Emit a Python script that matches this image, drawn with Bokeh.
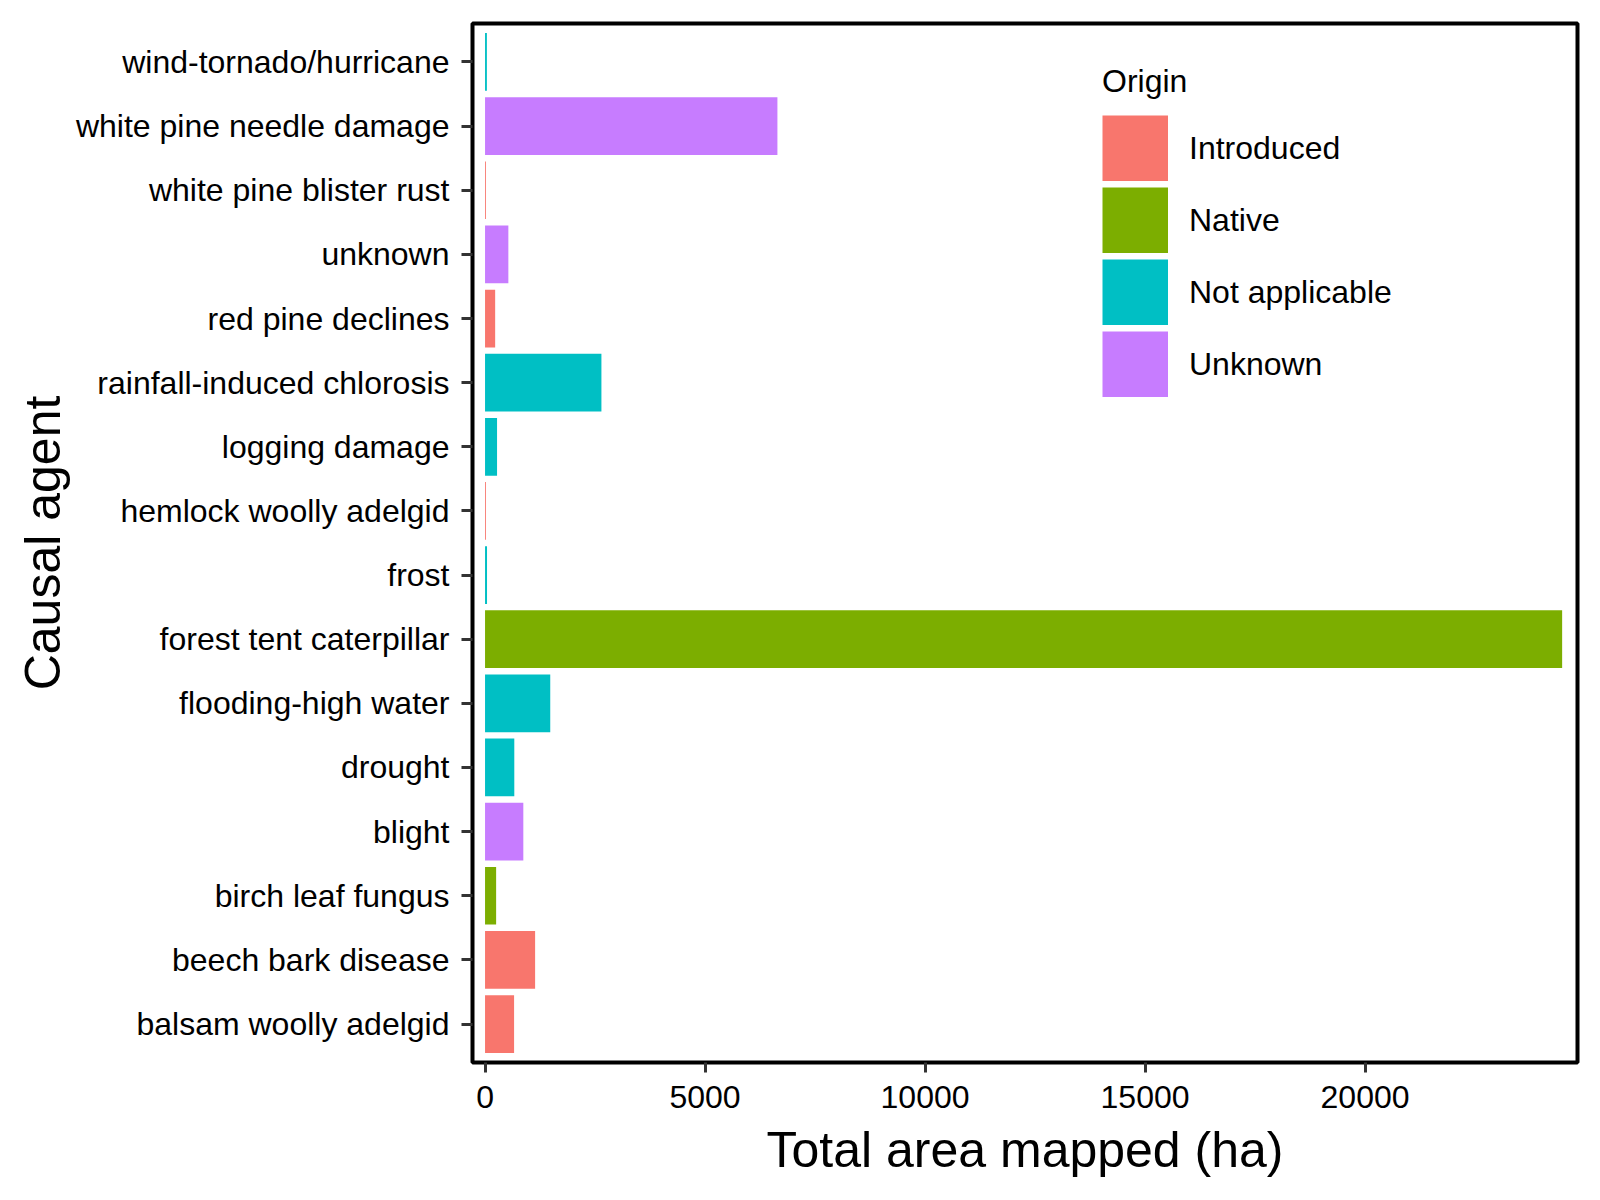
from bokeh.plotting import figure
from bokeh.models import ColumnDataSource, Range1d, FactorRange, FixedTicker, Legend, LegendItem
from bokeh.embed import file_html
from bokeh.resources import INLINE

# ---- data (bottom to top) ----
agents = ['balsam woolly adelgid', 'beech bark disease', 'birch leaf fungus', 'blight',
          'drought', 'flooding-high water', 'forest tent caterpillar', 'frost',
          'hemlock woolly adelgid', 'logging damage', 'rainfall-induced chlorosis',
          'red pine declines', 'unknown', 'white pine blister rust',
          'white pine needle damage', 'wind-tornado/hurricane']
area = [660, 1138, 252, 870, 665, 1482, 24480, 45, 20, 273, 2645, 230, 530, 20, 6645, 42]
origin = ['Introduced', 'Introduced', 'Native', 'Unknown', 'Not applicable', 'Not applicable',
          'Native', 'Not applicable', 'Introduced', 'Not applicable', 'Not applicable',
          'Introduced', 'Unknown', 'Introduced', 'Unknown', 'Not applicable']
origin_levels = ['Introduced', 'Native', 'Not applicable', 'Unknown']
origin_colors = ['#F8766D', '#7CAE00', '#00BFC4', '#C77CFF']
x_ticks = [0, 5000, 10000, 15000, 20000]

FONT = "Liberation Sans"

p = figure(width=1592, height=1184, output_backend="svg", toolbar_location=None,
           y_range=FactorRange(factors=agents, range_padding=0.0125, range_padding_units="percent"),
           x_range=Range1d(-285, 24829),
           min_border_left=472, min_border_right=15, min_border_top=23, min_border_bottom=122)

items = []
for lvl, col in zip(origin_levels, origin_colors):
    ys = [a for a, o in zip(agents, origin) if o == lvl]
    vs = [v for v, o in zip(area, origin) if o == lvl]
    src = ColumnDataSource(dict(y=ys, right=vs))
    p.hbar(y='y', left=0, right='right', height=0.9, source=src,
           fill_color=col, line_color=None)
    # legend key: a thick butt-capped line fills the whole key box (single point -> nothing drawn in plot)
    key = p.line(x=[0], y=[ys[0]], line_color=col, line_width=66, line_cap="butt")
    items.append(LegendItem(label=lvl, renderers=[key]))

legend = Legend(items=items, location=(630, 665), title="Origin",
                glyph_width=66, glyph_height=66, spacing=6, padding=0, margin=0,
                label_standoff=21, title_standoff=15,
                label_text_font=FONT, label_text_font_size="32px", label_text_color="black",
                title_text_font=FONT, title_text_font_size="32px", title_text_font_style="normal",
                title_text_color="black",
                border_line_color=None, background_fill_alpha=0)
p.add_layout(legend, "center")

p.xgrid.visible = False
p.ygrid.visible = False
p.outline_line_color = "black"
p.outline_line_width = 4
p.outline_line_alpha = 1

p.xaxis.ticker = FixedTicker(ticks=x_ticks)
p.xaxis.axis_label = "Total area mapped (ha)"
p.yaxis.axis_label = "Causal agent"
for ax in (p.xaxis[0], p.yaxis[0]):
    ax.axis_line_color = None
    ax.major_tick_line_color = "#333333"
    ax.major_tick_line_width = 3
    ax.major_tick_in = 0
    ax.minor_tick_line_color = None
    ax.major_label_text_font = FONT
    ax.major_label_text_font_size = "32px"
    ax.major_label_text_color = "black"
    ax.axis_label_text_font = FONT
    ax.axis_label_text_font_size = "50px"
    ax.axis_label_text_font_style = "normal"
    ax.axis_label_text_color = "black"
p.xaxis.major_tick_out = 10
p.yaxis.major_tick_out = 11
p.xaxis.major_label_standoff = 13
p.yaxis.major_label_standoff = 12
p.xaxis.axis_label_standoff = 11
p.yaxis.axis_label_standoff = 2

open("out.html", "w").write(file_html(p, INLINE))
